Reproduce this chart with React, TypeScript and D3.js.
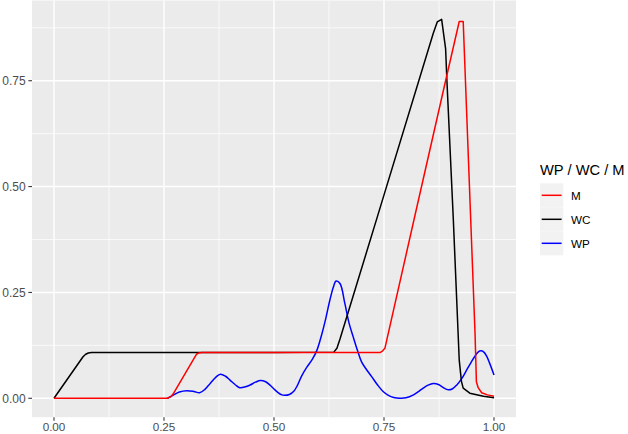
import React from "react";
import * as d3 from "d3";

const seriesNames = ["M", "WC", "WP"];
const seriesColors = ["#FF0000", "#000000", "#0000FF"];

const mX = [0, 0.258, 0.266, 0.272, 0.324, 0.329, 0.336, 0.5, 0.741, 0.747, 0.752, 0.818, 0.890, 0.921, 0.930, 0.957, 0.960, 0.964, 0.972, 0.985, 1.0];
const mY = [0, 0, 0.004, 0.012, 0.104, 0.107, 0.108, 0.108, 0.108, 0.112, 0.118, 0.421, 0.75, 0.890, 0.890, 0.15, 0.039, 0.025, 0.013, 0.008, 0.005];

const wcX = [0, 0.066, 0.072, 0.078, 0.085, 0.3, 0.5, 0.636, 0.643, 0.65, 0.735, 0.862, 0.871, 0.881, 0.890, 0.893, 0.9076, 0.921, 0.926, 0.930, 0.945, 0.976, 1.0];
const wcY = [0, 0.098, 0.104, 0.107, 0.108, 0.108, 0.108, 0.109, 0.118, 0.140, 0.429, 0.862, 0.889, 0.895, 0.826, 0.75, 0.421, 0.09, 0.04, 0.024, 0.012, 0.005, 0.001];

const wpX = [0.258, 0.27, 0.285, 0.302, 0.318, 0.331, 0.343, 0.355, 0.368, 0.378, 0.39, 0.40, 0.412, 0.422, 0.435, 0.445, 0.458, 0.469, 0.481, 0.491, 0.50, 0.51, 0.518, 0.524, 0.535, 0.546, 0.553, 0.563, 0.575, 0.587, 0.597, 0.608, 0.618, 0.627, 0.635, 0.641, 0.650, 0.661, 0.670, 0.680, 0.690, 0.699, 0.71, 0.722, 0.735, 0.748, 0.76, 0.772, 0.786, 0.80, 0.817, 0.83, 0.839, 0.850, 0.862, 0.875, 0.885, 0.896, 0.905, 0.915, 0.927, 0.938, 0.948, 0.957, 0.965, 0.970, 0.977, 0.983, 0.99, 1.0];
const wpY = [0, 0.007, 0.015, 0.018, 0.016, 0.013, 0.021, 0.035, 0.050, 0.057, 0.052, 0.043, 0.032, 0.025, 0.027, 0.031, 0.038, 0.042, 0.039, 0.031, 0.022, 0.013, 0.008, 0.007, 0.009, 0.018, 0.030, 0.053, 0.074, 0.092, 0.112, 0.149, 0.19, 0.232, 0.263, 0.277, 0.271, 0.224, 0.18, 0.145, 0.112, 0.086, 0.068, 0.051, 0.032, 0.016, 0.007, 0.002, 0.0, 0.001, 0.008, 0.017, 0.024, 0.031, 0.035, 0.032, 0.025, 0.020, 0.022, 0.031, 0.047, 0.067, 0.085, 0.100, 0.110, 0.112, 0.109, 0.100, 0.083, 0.055];

const xTicks = [0, 0.25, 0.5, 0.75, 1.0];
const xTickLabels = ["0.00", "0.25", "0.50", "0.75", "1.00"];
const yTicks = [0, 0.25, 0.5, 0.75];
const yTickLabels = ["0.00", "0.25", "0.50", "0.75"];
const xMinor = [0.125, 0.375, 0.625, 0.875];
const yMinor = [0.125, 0.375, 0.625, 0.875];
const legendTitle = "WP / WC / M";

const FONT = "'Liberation Sans', Arial, Helvetica, sans-serif";

export default function App() {
  const panel = { left: 32, right: 516, top: 0.5, bottom: 417.2 };
  const x = d3.scaleLinear().domain([-0.05, 1.05]).range([panel.left, panel.right]);
  const y = d3.scaleLinear().domain([-0.0447, 0.9395]).range([panel.bottom, panel.top]);

  const toPts = (xs: number[], ys: number[]) => xs.map((v, i) => [v, ys[i]] as [number, number]);
  const linear = d3.line<[number, number]>().x(d => x(d[0])).y(d => y(d[1]));
  const smooth = d3.line<[number, number]>().x(d => x(d[0])).y(d => y(d[1])).curve(d3.curveCatmullRom.alpha(0.5));

  const series = [
    { name: "WP", path: smooth(toPts(wpX, wpY)) as string, color: seriesColors[2] },
    { name: "WC", path: linear(toPts(wcX, wcY)) as string, color: seriesColors[1] },
    { name: "M", path: linear(toPts(mX, mY)) as string, color: seriesColors[0] },
  ];

  const legX = 540;
  const keyTop = 183.3;
  const keyH = 24;
  const keyW = 23.3;

  return (
    <svg width={628} height={434} style={{ position: "absolute", left: 0, top: 0, background: "#fff" }} fontFamily={FONT}>
      <rect x={panel.left} y={panel.top} width={panel.right - panel.left} height={panel.bottom - panel.top} fill="#EBEBEB" />
      {xMinor.map(v => (
        <line key={"xm" + v} x1={x(v)} x2={x(v)} y1={panel.top} y2={panel.bottom} stroke="#fff" strokeWidth={0.71} />
      ))}
      {yMinor.map(v => (
        <line key={"ym" + v} y1={y(v)} y2={y(v)} x1={panel.left} x2={panel.right} stroke="#fff" strokeWidth={0.71} />
      ))}
      {xTicks.map(v => (
        <line key={"xM" + v} x1={x(v)} x2={x(v)} y1={panel.top} y2={panel.bottom} stroke="#fff" strokeWidth={1.42} />
      ))}
      {yTicks.map(v => (
        <line key={"yM" + v} y1={y(v)} y2={y(v)} x1={panel.left} x2={panel.right} stroke="#fff" strokeWidth={1.42} />
      ))}
      {series.map(s => (
        <path key={s.name} d={s.path} fill="none" stroke={s.color} strokeWidth={1.5} strokeLinejoin="round" strokeLinecap="butt" />
      ))}
      {xTicks.map((v, i) => (
        <g key={"xt" + v}>
          <line x1={x(v)} x2={x(v)} y1={panel.bottom} y2={panel.bottom + 3.67} stroke="#333333" strokeWidth={1.07} />
          <text x={x(v)} y={431.3} textAnchor="middle" fontSize={11.7} fill="#4D4D4D">{xTickLabels[i]}</text>
        </g>
      ))}
      {yTicks.map((v, i) => (
        <g key={"yt" + v}>
          <line x1={panel.left - 3.67} x2={panel.left} y1={y(v)} y2={y(v)} stroke="#333333" strokeWidth={1.07} />
          <text x={panel.left - 6.4} y={y(v)} dy="0.36em" textAnchor="end" fontSize={12} fill="#4D4D4D">{yTickLabels[i]}</text>
        </g>
      ))}
      <text x={legX} y={175} fontSize={14.7} fill="#000">{legendTitle}</text>
      {seriesNames.map((n, i) => (
        <g key={"lg" + n}>
          <rect x={legX} y={keyTop + i * keyH} width={keyW} height={keyH} fill="#F2F2F2" />
          <line x1={legX + 1.7} x2={legX + keyW - 1.7} y1={keyTop + i * keyH + keyH / 2} y2={keyTop + i * keyH + keyH / 2} stroke={seriesColors[i]} strokeWidth={1.5} />
          <text x={571} y={keyTop + i * keyH + keyH / 2} dy="0.36em" fontSize={11.7} fill="#000">{n}</text>
        </g>
      ))}
    </svg>
  );
}
